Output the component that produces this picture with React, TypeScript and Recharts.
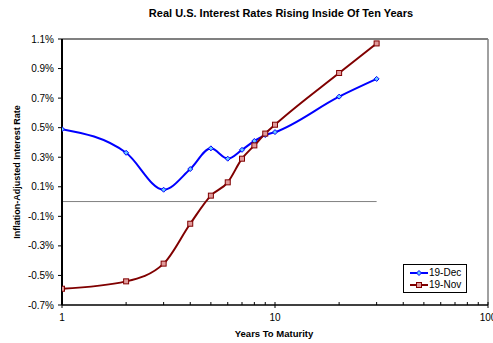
import React from "react";
import {
  LineChart,
  Line,
  XAxis,
  YAxis,
  ReferenceLine,
} from "recharts";

const maturities = [1, 2, 3, 4, 5, 6, 7, 8, 9, 10, 20, 30];
const dec19 = [0.49, 0.33, 0.08, 0.22, 0.36, 0.29, 0.35, 0.41, 0.45, 0.47, 0.71, 0.83];
const nov19 = [-0.59, -0.54, -0.42, -0.15, 0.04, 0.13, 0.29, 0.38, 0.46, 0.52, 0.87, 1.07];
const yTicks = [-0.7, -0.5, -0.3, -0.1, 0.1, 0.3, 0.5, 0.7, 0.9, 1.1];
const xTicks = [1, 2, 3, 4, 5, 6, 7, 8, 9, 10, 20, 30, 40, 50, 60, 70, 80, 90, 100];
const majorTicks = [1, 10, 100];

const data = maturities.map((m, i) => ({ m, dec: dec19[i], nov: nov19[i] }));

const FONT = "'Liberation Sans', Arial, sans-serif";

const XTick = (props: any) => {
  const { x, y, payload } = props;
  const major = majorTicks.includes(payload.value);
  return (
    <g>
      <line x1={x} x2={x} y1={y - 3} y2={major ? y + 3 : y} stroke="#000" />
      {major && (
        <text x={x} y={y + 16} textAnchor="middle" fontSize={10} fill="#000" fontFamily={FONT}>
          {payload.value}
        </text>
      )}
    </g>
  );
};

const Diamond = (p: any) => {
  const { cx, cy, index } = p;
  const r = 2.5;
  return (
    <path
      key={`dec-${index}`}
      d={`M${cx},${cy - r}L${cx + r},${cy}L${cx},${cy + r}L${cx - r},${cy}Z`}
      fill="#66ccff"
      stroke="#0000ff"
      strokeWidth={1}
    />
  );
};

const Square = (p: any) => {
  const { cx, cy, index } = p;
  return (
    <rect
      key={`nov-${index}`}
      x={cx - 2.5}
      y={cy - 2.5}
      width={5}
      height={5}
      fill="#e09a9a"
      stroke="#800000"
      strokeWidth={1}
    />
  );
};

export default function App() {
  return (
    <div style={{ position: "absolute", left: 0, top: 0, width: 493, height: 343, fontFamily: FONT, background: "#fff" }}>
      <div
        style={{
          position: "absolute",
          left: 81,
          top: 5,
          width: 400,
          textAlign: "center",
          fontSize: 11,
          fontWeight: "bold",
          lineHeight: "16px",
        }}
      >
        Real U.S. Interest Rates Rising Inside Of Ten Years
      </div>
      <LineChart
        width={493}
        height={343}
        data={data}
        margin={{ top: 39, right: 5, bottom: 8, left: 20 }}
      >
        <XAxis
          dataKey="m"
          type="number"
          scale="log"
          domain={[1, 100]}
          ticks={xTicks}
          interval={0}
          tick={<XTick />}
          tickLine={false}
          tickSize={0}
          tickMargin={0}
          height={30}
          axisLine={{ stroke: "#000", strokeWidth: 1.5 }}
          allowDataOverflow
        />
        <YAxis
          type="number"
          domain={[-0.7, 1.1]}
          ticks={yTicks}
          interval={0}
          width={42}
          tickSize={4}
          tickMargin={4}
          tickLine={{ stroke: "#000" }}
          axisLine={{ stroke: "#000", strokeWidth: 2 }}
          tick={{ fontSize: 10, fill: "#000", fontFamily: FONT }}
          tickFormatter={(v: number) => `${v.toFixed(1)}%`}
        />
        <ReferenceLine y={1.1} stroke="#808080" strokeWidth={2} />
        <ReferenceLine x={100} stroke="#808080" strokeWidth={1.5} />
        <ReferenceLine
          segment={[
            { x: 1, y: 0 },
            { x: 30, y: 0 },
          ]}
          stroke="#808080"
          strokeWidth={1}
        />
        <Line
          dataKey="dec"
          type="monotone"
          stroke="#0000ff"
          strokeWidth={2}
          dot={Diamond}
          activeDot={false}
          isAnimationActive={false}
        />
        <Line
          dataKey="nov"
          type="monotone"
          stroke="#800000"
          strokeWidth={2}
          dot={Square}
          activeDot={false}
          isAnimationActive={false}
        />
      </LineChart>
      <div
        style={{
          position: "absolute",
          left: 174,
          top: 327,
          width: 200,
          textAlign: "center",
          fontSize: 9.5,
          fontWeight: "bold",
          lineHeight: "14px",
        }}
      >
        Years To Maturity
      </div>
      <div
        style={{
          position: "absolute",
          left: 17,
          top: 172,
          transform: "translate(-50%, -50%) rotate(-90deg)",
          whiteSpace: "nowrap",
          fontSize: 9,
          fontWeight: "bold",
          lineHeight: "12px",
        }}
      >
        Inflation-Adjusted Interest Rate
      </div>
      <div
        style={{
          position: "absolute",
          left: 403,
          top: 264,
          width: 62,
          height: 27,
          border: "1px solid #000",
          fontSize: 10,
          lineHeight: "12px",
          background: "#fff",
        }}
      >
        {[
          { name: "19-Dec", color: "#0000ff", square: false },
          { name: "19-Nov", color: "#800000", square: true },
        ].map((s, i) => (
          <div key={s.name} style={{ position: "absolute", left: 6, top: 2 + i * 12, height: 12, display: "flex", alignItems: "center" }}>
            <svg width={18} height={12}>
              <line x1={0} x2={18} y1={6} y2={6} stroke={s.color} strokeWidth={2} />
              {s.square ? (
                <rect x={6.5} y={3.5} width={5} height={5} fill="#e09a9a" stroke="#800000" />
              ) : (
                <path d="M9,3.5L11.5,6L9,8.5L6.5,6Z" fill="#66ccff" stroke="#0000ff" />
              )}
            </svg>
            <span style={{ marginLeft: 1 }}>{s.name}</span>
          </div>
        ))}
      </div>
    </div>
  );
}
